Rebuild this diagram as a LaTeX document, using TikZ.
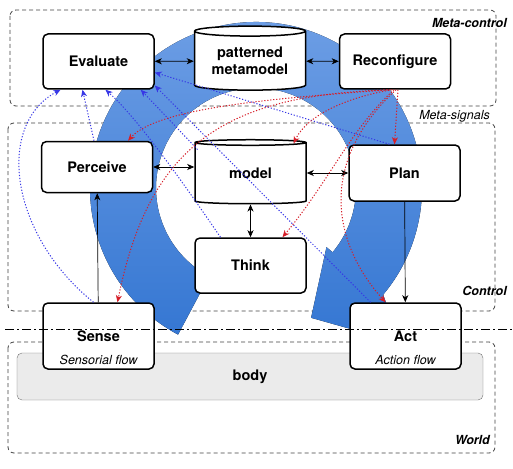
\documentclass[tikz,border=0pt]{standalone}
\usepackage{fontspec}
\setmainfont{TeX Gyre Heros}
\usepackage[dvipsnames]{xcolor}
\usetikzlibrary{shapes.geometric,arrows.meta,calc,positioning}

\definecolor{bleuA}{RGB}{112,160,230}
\definecolor{bleuB}{RGB}{52,118,210}
\definecolor{sigbleu}{RGB}{55,55,230}
\definecolor{sigrouge}{RGB}{214,30,40}

\begin{document}
\begin{tikzpicture}[x=1pt,y=-1pt,
  boite/.style={draw,line width=1.5pt,rounded corners=5pt,fill=white,
    minimum width=111pt,minimum height=55pt,inner sep=0pt,
    font=\fontsize{14.5}{17}\selectfont\bfseries,align=center},
  base/.style={cylinder,shape border rotate=90,draw,line width=1.5pt,fill=white,
    aspect=0.13,minimum width=111pt,minimum height=64pt,inner sep=0pt,
    font=\fontsize{14.5}{17}\selectfont\bfseries,align=center},
  cadre/.style={draw=black!75,line width=0.8pt,dash pattern=on 4pt off 3pt,rounded corners=6pt},
  titre/.style={font=\fontsize{12.5}{14}\selectfont\bfseries\itshape,inner sep=0pt},
  etiq/.style={font=\fontsize{12.5}{14}\selectfont\itshape,inner sep=0pt},
  fl/.style={<->,>={Stealth[length=7pt,width=6pt,inset=2pt]},line width=0.7pt},
  fleche/.style={->,>={Stealth[length=7pt,width=6pt,inset=2pt]},line width=0.7pt},
  sigb/.style={->,>={Stealth[length=7pt,width=6pt,inset=2pt]},sigbleu,line width=1pt,dash pattern=on 1.2pt off 1.8pt},
  sigr/.style={->,>={Stealth[length=7pt,width=6pt,inset=2pt]},sigrouge,line width=1pt,dash pattern=on 1.2pt off 1.8pt}]
\useasboundingbox (0,0) rectangle (513,468);

%cadres
\draw[cadre] (10,10) rectangle (496,106);
\draw[cadre] (8,123) rectangle (495,311);
\draw[cadre] (8,342) rectangle (495,453);
\node[titre,anchor=east] (lmeta) at (507,23) {Meta-control};
\node[etiq,anchor=east] (lsig) at (490,116) {Meta-signals};
\node[titre,anchor=east] (lctrl) at (507,291) {Control};
\node[titre,anchor=east] (lworld) at (490,440) {World};

%grande fleche bleue
\coordinate (c) at (256,188);
\fill[top color=bleuA,bottom color=bleuB] ($(c)+(-242:166)$) arc[start angle=-242,end angle=40,radius=166]
  -- ($(c)+(47:212)$) -- ($(c)+(67:141)$) -- ($(c)+(40:92)$) -- ($(c)+(40:100)$)
  arc[start angle=40,end angle=-242,radius=100] -- cycle;

%corps
\node[draw=black!55,fill=black!8,rounded corners=5pt,minimum width=466pt,minimum height=47pt,
  font=\fontsize{14.5}{17}\selectfont\bfseries] (body) at (250,376.5) {body};

%boites
\node[boite] (eval) at (98.5,61.5) {Evaluate};
\node[base] (pmeta) at (250,61) {patterned\\metamodel};
\node[boite] (reconf) at (395,61.5) {Reconfigure};
\node[boite,minimum height=51pt] (perc) at (97,167) {Perceive};
\node[base] (model) at (250.5,173.5) {model};
\node[boite,minimum height=56pt] (plan) at (404.5,173) {Plan};
\node[boite] (think) at (250.5,265.5) {Think};
\node[boite,minimum height=66pt] (sense) at (98.5,336) {Sense};
\node[boite,minimum height=66pt] (act) at (405.5,336) {Act};
\node[etiq,above=5pt of sense.south] (fsens) {Sensorial flow};
\node[etiq,above=5pt of act.south] (fact) {Action flow};

\draw[line width=0.9pt,dash pattern=on 9pt off 3pt on 2pt off 3pt] (5,329) -- (513,329);

%liens
\draw[fl] (eval) -- (pmeta);
\draw[fl] (pmeta) -- (reconf);
\draw[fl] (perc.east) -- (perc.east -| model.west);
\draw[fl] (plan.west) -- (plan.west -| model.east);
\draw[fl] (model) -- (think);
\draw[fleche] (sense) -- (perc);
\draw[fleche] (plan) -- (act);

%meta-signaux vers Evaluate
\draw[sigb] ([xshift=-5]sense.north) .. controls (10,235) and (-5,125) .. ([xshift=-38]eval.south);
\draw[sigb] ([xshift=-3]perc.north) -- ([xshift=-16]eval.south);
\draw[sigb] ([xshift=-30]think.north) .. controls (195,200) and (140,120) .. ([xshift=7]eval.south);
\draw[sigb] ($(model.center)+(-53,-24)$) -- ([xshift=-14]eval.south east);
\draw[sigb] ([xshift=-15]plan.north) -- ([yshift=-11]eval.east);
\draw[sigb] ([xshift=-35]act.north) -- ([yshift=-24]eval.east);

%reconfiguration
\draw[sigr] ([xshift=-7]reconf.south) .. controls (300,97) and (160,105) .. ([xshift=31]perc.north);
\draw[sigr] ([xshift=-5]reconf.south) .. controls (230,95) and (150,140) .. ([xshift=19]sense.north);
\draw[sigr] ([xshift=-3]reconf.south) .. controls (360,95) and (310,110) .. ($(model.center)+(43,-30)$);
\draw[sigr] ([xshift=-1]reconf.south) .. controls (350,130) and (330,180) .. ([xshift=32]think.north);
\draw[sigr] ([xshift=1]reconf.south) .. controls (320,160) and (330,240) .. ([xshift=-20]act.north);
\draw[sigr] ([xshift=3]reconf.south) -- ([xshift=-10]plan.north);
\end{tikzpicture}
\end{document}
